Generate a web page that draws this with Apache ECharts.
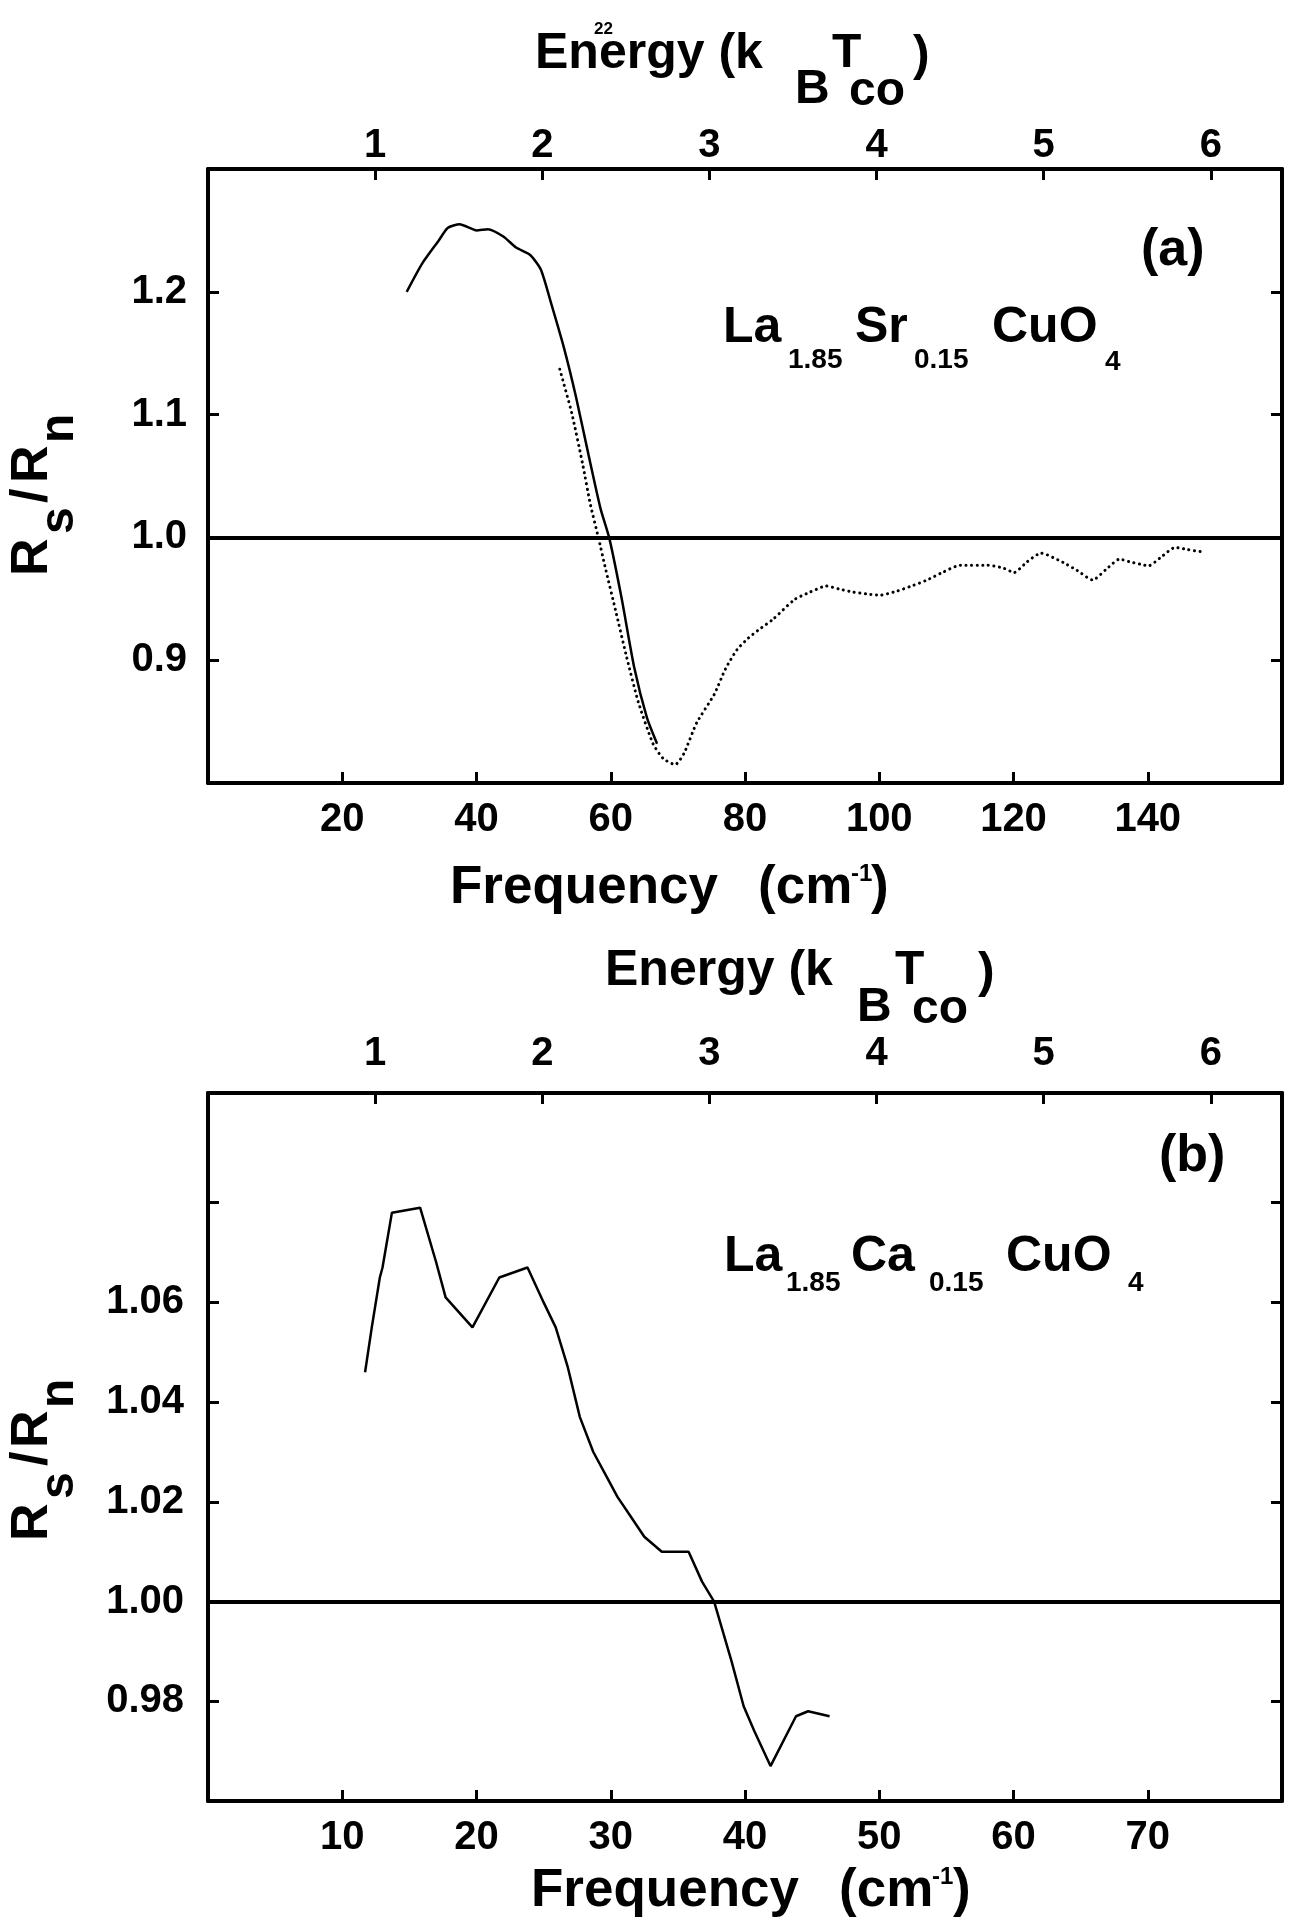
<!DOCTYPE html>
<html>
<head>
<meta charset="utf-8">
<script src="https://cdn.jsdelivr.net/npm/echarts@6/dist/echarts.min.js"></script>
<style>
html,body{margin:0;padding:0;background:#fff;}
#chart{width:1290px;height:1923px;}
</style>
</head>
<body>
<div id="chart"></div>
<script>
// ---------- data ----------
// Panel (a) La1.85Sr0.15CuO4, solid curve
const freqA_solid = [29.6, 31.9, 34.4, 35.7, 37.5, 39.0, 40.0, 41.7, 44.0, 45.9, 48.0, 49.6, 51.1, 53.0, 54.8, 56.7, 58.5, 59.8, 61.6, 63.5, 65.4, 66.9];
const rsA_solid   = [1.200, 1.223, 1.242, 1.252, 1.255, 1.252, 1.250, 1.251, 1.245, 1.236, 1.230, 1.218, 1.191, 1.155, 1.115, 1.067, 1.023, 0.999, 0.951, 0.894, 0.853, 0.832];
// Panel (a) dotted curve
const freqA_dot = [52.4, 54.2, 55.8, 57.0, 58.2, 59.2, 60.7, 62.3, 64.1, 66.3, 67.8, 69.6, 70.9, 72.8, 75.4, 77.1, 78.8, 80.5, 82.1, 84.1, 87.4, 89.5, 92.1, 94.0, 96.1, 98.0, 100.1, 102.5, 104.8, 107.0, 109.4, 112.1, 116.1, 118.5, 120.1, 122.0, 124.1, 127.4, 129.5, 131.8, 133.8, 135.8, 137.4, 139.0, 140.1, 142.0, 144.1, 146.0, 148.1];
const rsA_dot   = [1.137, 1.101, 1.060, 1.026, 0.999, 0.975, 0.941, 0.904, 0.866, 0.832, 0.820, 0.815, 0.824, 0.849, 0.872, 0.893, 0.9085, 0.918, 0.925, 0.933, 0.9495, 0.955, 0.9604, 0.958, 0.9555, 0.954, 0.953, 0.956, 0.9604, 0.965, 0.9714, 0.9774, 0.9774, 0.975, 0.9714, 0.980, 0.9872, 0.9796, 0.973, 0.9653, 0.974, 0.9823, 0.980, 0.978, 0.9768, 0.984, 0.9919, 0.990, 0.9883];
// Panel (b) La1.85Ca0.15CuO4
const freqB = [11.7, 12.2, 12.8, 13.0, 13.7, 15.8, 17.0, 17.7, 19.7, 21.7, 23.8, 25.0, 25.9, 26.8, 27.7, 28.7, 29.7, 30.5, 31.5, 32.5, 33.8, 35.8, 36.8, 37.7, 39.0, 39.9, 40.7, 41.9, 43.8, 44.7, 46.3];
const rsB   = [1.046, 1.055, 1.065, 1.067, 1.078, 1.079, 1.068, 1.061, 1.055, 1.065, 1.067, 1.060, 1.055, 1.047, 1.037, 1.030, 1.025, 1.021, 1.017, 1.013, 1.010, 1.010, 1.004, 1.000, 0.988, 0.979, 0.974, 0.967, 0.977, 0.978, 0.977];

// reference level
const unityLevel = 1.0;

// axis ranges and tick labels
const xRangeA = [0, 160];
const yRangeA = [0.8, 1.3];
const xTicksA = [20, 40, 60, 80, 100, 120, 140];
const yTicksA = [0.9, 1.0, 1.1, 1.2];
const xRangeB = [0, 80];
const yRangeB = [0.96, 1.102];
const xTicksB = [10, 20, 30, 40, 50, 60, 70];
const yTicksB = [0.98, 1.00, 1.02, 1.04, 1.06, 1.08];
const yLabelsB = [0.98, 1.00, 1.02, 1.04, 1.06];
const energyTicks = [1, 2, 3, 4, 5, 6];
// cm^-1 per unit of k_B T_co
const cmPerEnergyA = 24.9;
const cmPerEnergyB = 12.45;

// ---------- styling ----------
const FF = "'Liberation Sans', Arial, Helvetica, sans-serif";
const BLACK = '#000';

function pairs(xs, ys) { return xs.map((x, i) => [x, ys[i]]); }

function txt(x, y, s, size, rot) {
  return {
    type: 'text', x: x, y: y, rotation: rot || 0, silent: true,
    style: { text: s, fontSize: size, fontWeight: 'bold', fontFamily: FF, fill: BLACK, align: 'left', verticalAlign: 'middle' }
  };
}

function xAxisCfg(gridIndex, pos, min, max, ticks, labelMargin, fmt) {
  return {
    type: 'value', gridIndex: gridIndex, position: pos, min: min, max: max,
    splitLine: { show: false },
    axisLine: { show: true, onZero: false, lineStyle: { color: BLACK, width: 4 } },
    axisTick: { show: true, inside: true, length: 11, lineStyle: { color: BLACK, width: 3 }, customValues: ticks },
    axisLabel: { show: true, customValues: ticks, margin: labelMargin, color: BLACK, fontSize: 40, fontWeight: 'bold', fontFamily: FF, formatter: fmt || (v => String(v)) }
  };
}

function yAxisCfg(gridIndex, pos, min, max, ticks, labels, labelMargin, fmt) {
  return {
    type: 'value', gridIndex: gridIndex, position: pos, min: min, max: max,
    splitLine: { show: false },
    axisLine: { show: true, onZero: false, lineStyle: { color: BLACK, width: 4 } },
    axisTick: { show: true, inside: true, length: 11, lineStyle: { color: BLACK, width: 3 }, customValues: ticks },
    axisLabel: labels ? { show: true, customValues: labels, margin: labelMargin, color: BLACK, fontSize: 40, fontWeight: 'bold', fontFamily: FF, formatter: fmt } : { show: false }
  };
}

const unityLine = {
  silent: true, symbol: 'none', label: { show: false },
  lineStyle: { color: BLACK, width: 4, type: 'solid' },
  emphasis: { disabled: true },
  data: [{ yAxis: unityLevel }]
};

const rot = Math.PI / 2;

const option = {
  backgroundColor: '#fff',
  animation: false,
  grid: [
    { left: 208, top: 169, width: 1074, height: 614 },
    { left: 208, top: 1093, width: 1074, height: 708 }
  ],
  xAxis: [
    xAxisCfg(0, 'bottom', xRangeA[0], xRangeA[1], xTicksA, 17),
    xAxisCfg(0, 'top', xRangeA[0] / cmPerEnergyA, xRangeA[1] / cmPerEnergyA, energyTicks, 3),
    xAxisCfg(1, 'bottom', xRangeB[0], xRangeB[1], xTicksB, 17),
    xAxisCfg(1, 'top', xRangeB[0] / cmPerEnergyB, xRangeB[1] / cmPerEnergyB, energyTicks, 19)
  ],
  yAxis: [
    yAxisCfg(0, 'left', yRangeA[0], yRangeA[1], yTicksA, yTicksA, 21, v => v.toFixed(1)),
    yAxisCfg(0, 'right', yRangeA[0], yRangeA[1], yTicksA, null),
    yAxisCfg(1, 'left', yRangeB[0], yRangeB[1], yTicksB, yLabelsB, 24, v => v.toFixed(2)),
    yAxisCfg(1, 'right', yRangeB[0], yRangeB[1], yTicksB, null)
  ],
  series: [
    {
      type: 'line', xAxisIndex: 0, yAxisIndex: 0, data: pairs(freqA_solid, rsA_solid),
      symbol: 'none', showSymbol: false, smooth: 0.2, silent: true,
      lineStyle: { color: BLACK, width: 2.5 },
      markLine: unityLine
    },
    {
      type: 'line', xAxisIndex: 0, yAxisIndex: 0, data: pairs(freqA_dot, rsA_dot),
      symbol: 'none', showSymbol: false, smooth: 0.2, silent: true,
      lineStyle: { color: BLACK, width: 3, type: [0.1, 5.5], cap: 'round' }
    },
    {
      type: 'line', xAxisIndex: 2, yAxisIndex: 2, data: pairs(freqB, rsB),
      symbol: 'none', showSymbol: false, smooth: false, silent: true,
      lineStyle: { color: BLACK, width: 2.5 },
      markLine: unityLine
    }
  ],
  graphic: [
    // panel (a) top title
    txt(594, 29, '22', 17),
    txt(535, 54, 'Energy (k', 50),
    txt(795, 90, 'B', 48),
    txt(832, 54, 'T', 48),
    txt(849, 92, 'co', 48),
    txt(913, 56, ')', 50),
    // panel (a) label and formula
    txt(1141, 251, '(a)', 52),
    txt(723, 328, 'La', 50),
    txt(788, 360, '1.85', 28),
    txt(855, 328, 'Sr', 50),
    txt(914, 360, '0.15', 28),
    txt(992, 328, 'CuO', 50),
    txt(1105, 362, '4', 28),
    // panel (a) bottom title
    txt(450, 888, 'Frequency', 53),
    txt(758, 888, '(cm', 53),
    txt(851, 874, '-1', 24),
    txt(871, 888, ')', 53),
    // panel (a) y title
    txt(33, 576, 'R', 52, rot),
    txt(60, 534, 's', 48, rot),
    txt(33, 503, '/', 52, rot),
    txt(33, 483, 'R', 52, rot),
    txt(60, 443, 'n', 48, rot),

    // panel (b) top title
    txt(605, 971, 'Energy (k', 50),
    txt(857, 1008, 'B', 48),
    txt(895, 971, 'T', 48),
    txt(912, 1010, 'co', 48),
    txt(978, 973, ')', 50),
    // panel (b) label and formula
    txt(1159, 1157, '(b)', 52),
    txt(724, 1257, 'La', 50),
    txt(786, 1283, '1.85', 28),
    txt(851, 1257, 'Ca', 50),
    txt(929, 1283, '0.15', 28),
    txt(1006, 1257, 'CuO', 50),
    txt(1128, 1283, '4', 28),
    // panel (b) bottom title
    txt(531, 1891, 'Frequency', 53),
    txt(839, 1891, '(cm', 53),
    txt(932, 1877, '-1', 24),
    txt(953, 1891, ')', 53),
    // panel (b) y title
    txt(33, 1541, 'R', 52, rot),
    txt(60, 1499, 's', 48, rot),
    txt(33, 1466, '/', 52, rot),
    txt(33, 1448, 'R', 52, rot),
    txt(60, 1408, 'n', 48, rot)
  ]
};

const chart = echarts.init(document.getElementById('chart'), null, { renderer: 'canvas', width: 1290, height: 1923 });
chart.setOption(option);
</script>
</body>
</html>
